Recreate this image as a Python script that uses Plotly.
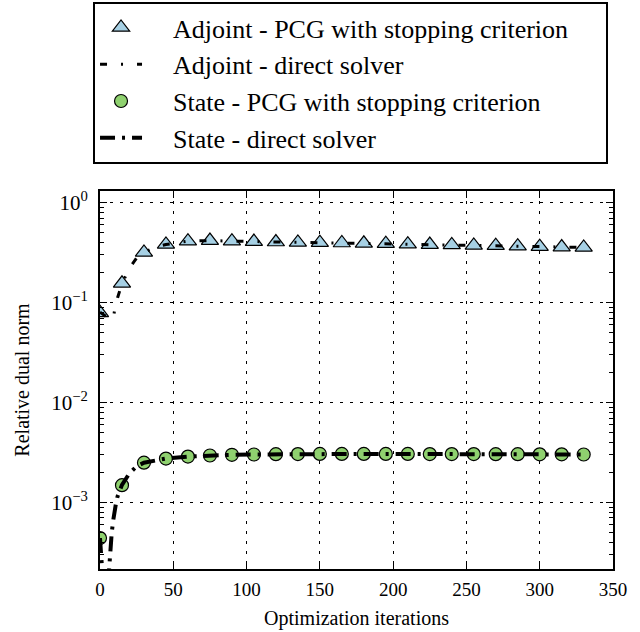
import plotly.graph_objects as go

# PCG (with stopping criterion) samples
pcg_iters = [0, 15, 30, 45, 60, 75, 90, 105, 120, 135, 150, 165, 180, 195, 210,
             225, 240, 255, 270, 285, 300, 315, 330]
adjoint_pcg = [0.079, 0.156, 0.318, 0.382, 0.412, 0.418, 0.412, 0.408, 0.404, 0.400,
               0.398, 0.395, 0.392, 0.389, 0.385, 0.381, 0.378, 0.374, 0.371,
               0.367, 0.363, 0.36, 0.357]
state_pcg = [4.4e-4, 1.49e-3, 2.5e-3, 2.75e-3, 2.88e-3, 2.95e-3, 3.0e-3, 3.02e-3,
             3.04e-3, 3.05e-3, 3.06e-3, 3.06e-3, 3.06e-3, 3.06e-3, 3.06e-3,
             3.05e-3, 3.05e-3, 3.05e-3, 3.04e-3, 3.04e-3, 3.03e-3, 3.03e-3, 3.02e-3]

# Direct solver curves
direct_iters = [0, 1, 2, 3, 4, 5, 6, 7, 8, 9, 10, 11, 12, 15, 20, 25, 30, 38, 45,
                60, 75, 90, 105, 120, 135, 150, 165, 180, 195, 210, 225, 240, 255,
                270, 285, 300, 315, 330]
adjoint_direct = [0.080, 0.078, 0.076, 0.075, 0.073, 0.072, 0.071, 0.070, 0.069,
                  0.068, 0.085, 0.100, 0.112, 0.155, 0.22, 0.28, 0.318, 0.36, 0.382,
                  0.412, 0.418, 0.412, 0.408, 0.404, 0.400, 0.398, 0.395, 0.392,
                  0.389, 0.385, 0.381, 0.378, 0.374, 0.371, 0.367, 0.363, 0.36, 0.357]
state_direct = [4.4e-4, 2.4e-4, 1.2e-4, 6e-5, 6e-5, 1.2e-4, 2.0e-4, 3.4e-4, 5.0e-4,
                6.6e-4, 8.4e-4, 1.0e-3, 1.15e-3, 1.5e-3, 1.95e-3, 2.3e-3, 2.5e-3,
                2.65e-3, 2.75e-3, 2.88e-3, 2.95e-3, 3.0e-3, 3.02e-3, 3.04e-3, 3.05e-3,
                3.06e-3, 3.06e-3, 3.06e-3, 3.06e-3, 3.06e-3, 3.05e-3, 3.05e-3, 3.05e-3,
                3.04e-3, 3.04e-3, 3.03e-3, 3.03e-3, 3.02e-3]

y_tickvals = [1e-3, 1e-2, 1e-1, 1e0]
y_ticktext = ["10<sup>\u22123</sup>", "10<sup>\u22122</sup>", "10<sup>\u22121</sup>", "10<sup>0</sup>"]
x_tickvals = [0, 50, 100, 150, 200, 250, 300, 350]

minor_vals = [m * 10 ** e for e in (-4, -3, -2, -1, 0) for m in range(2, 10)]

FONT = "Liberation Serif, DejaVu Serif, serif"
PAD = "\u00a0\u00a0\u00a0\u00a0"
TAIL = "\u00a0" * 5

fig = go.Figure()
fig.add_trace(go.Scatter(
    x=pcg_iters, y=adjoint_pcg, mode="markers",
    name=PAD + "Adjoint - PCG with stopping criterion" + TAIL,
    legendgroup="a",
    marker=dict(symbol="triangle-up", size=15, color="#a6d0e4",
                line=dict(color="black", width=1.2))))
fig.add_trace(go.Scatter(
    x=direct_iters, y=adjoint_direct, mode="lines",
    name=PAD + "Adjoint - direct solver",
    legendgroup="b",
    line=dict(color="black", width=3, dash="7px,14px,2px,14px")))
fig.add_trace(go.Scatter(
    x=pcg_iters, y=state_pcg, mode="markers",
    name=PAD + "State - PCG with stopping criterion",
    legendgroup="c",
    marker=dict(symbol="circle", size=13, color="#8fd16f",
                line=dict(color="black", width=1.2))))
fig.add_trace(go.Scatter(
    x=direct_iters, y=state_direct, mode="lines",
    name=PAD + "State - direct solver",
    legendgroup="d",
    line=dict(color="black", width=4, dash="15px,7px,3px,7px")))

fig.update_layout(
    width=640, height=632,
    margin=dict(l=100, r=27, t=191, b=63, autoexpand=False),
    paper_bgcolor="white", plot_bgcolor="white",
    font=dict(family=FONT, color="black", size=19),
    showlegend=True,
    legend=dict(x=-0.0136, xanchor="left", y=1.5, yanchor="top",
                bordercolor="black", borderwidth=2, bgcolor="white",
                font=dict(family=FONT, size=26), tracegroupgap=0,
                itemwidth=42),
    xaxis=dict(range=[0, 350], tickvals=x_tickvals, ticks="inside", ticklen=7,
               tickwidth=1.3, tickcolor="black", showline=True, linewidth=2,
               linecolor="black", mirror="ticks", showgrid=True, gridcolor="black",
               gridwidth=1, griddash="3px,7px", zeroline=False, automargin=False,
               ticklabelstandoff=2,
               title=dict(text="Optimization iterations", font=dict(size=20), standoff=12),
               tickfont=dict(size=19)),
    yaxis=dict(type="log", range=[-3.666, 0.117], tickvals=y_tickvals, ticktext=y_ticktext,
               ticks="inside", ticklen=7, tickwidth=1.3, tickcolor="black",
               showline=True, linewidth=2, linecolor="black", mirror="ticks",
               showgrid=True, gridcolor="black", gridwidth=1, griddash="3px,7px",
               zeroline=False, automargin=False, ticklabelstandoff=6,
               minor=dict(tickvals=minor_vals, ticks="inside", ticklen=4, tickwidth=1,
                          tickcolor="black", showgrid=False),
               title=dict(text="Relative dual norm", font=dict(size=20), standoff=16),
               tickfont=dict(size=21)),
)

fig.write_html("out.html", config={"displayModeBar": False},
               post_script="document.body.style.margin='0px';")
